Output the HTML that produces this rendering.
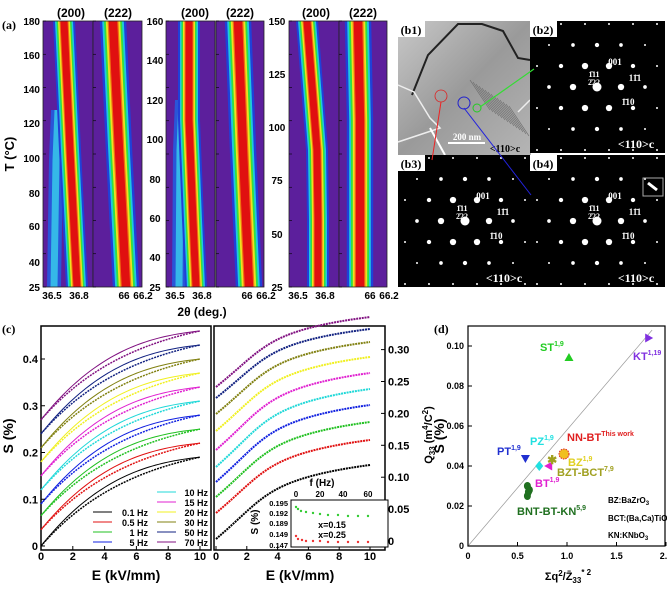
<!DOCTYPE html>
<html><head><meta charset="utf-8"><style>
html,body{margin:0;padding:0;background:#fff}
svg{display:block}
text{font-family:"Liberation Sans",sans-serif;font-weight:bold}
.s{font-family:"Liberation Serif",serif}
</style></head><body>
<svg id="g" width="667" height="600" viewBox="0 0 667 600" xmlns="http://www.w3.org/2000/svg">
<defs>
<linearGradient id="tem" x1="0" y1="0" x2="1" y2="1"><stop offset="0" stop-color="#c8c8c8"/><stop offset="0.5" stop-color="#9a9a9a"/><stop offset="1" stop-color="#b5b5b5"/></linearGradient>
</defs>
</svg>
<script>
const S=document.getElementById('g');let h='';
function T(x,y,t,o){o=o||{};h+=`<text x="${x}" y="${y}" font-size="${o.fs||11}" fill="${o.c||'#000'}" text-anchor="${o.a||'middle'}" ${o.cl?'class="'+o.cl+'"':''} ${o.tr?'transform="'+o.tr+'"':''}>${t}</text>`;}
const Y0=21,Y1=287;
const panels=[
 {x0:43,x1:93,pts:[[21,64],[150,70],[287,77]],sec:[[110,58],[160,56],[287,54]]},
 {x0:93,x1:142,pts:[[21,113],[150,119],[287,126]],wide:1},
 {x0:166,x1:215,pts:[[21,189],[120,189],[220,193],[287,196]],sec:[[100,182],[150,180],[287,179]]},
 {x0:216,x1:264,pts:[[21,238],[150,243],[287,249]],wide:1},
 {x0:289,x1:339,pts:[[21,307],[150,317],[220,318],[287,318]]},
 {x0:339,x1:387,pts:[[21,358],[120,360],[287,360]],wide:1}];
function band(pts,hw,col){let L=[],R=[];pts.forEach(p=>{L.push(`${p[1]-hw},${p[0]}`);R.unshift(`${p[1]+hw},${p[0]}`)});h+=`<polygon points="${L.concat(R).join(' ')}" fill="${col}"/>`;}
panels.forEach((p,i)=>{
 h+=`<clipPath id="c${i}"><rect x="${p.x0}" y="${Y0}" width="${p.x1-p.x0}" height="${Y1-Y0}"/></clipPath><g clip-path="url(#c${i})">`;
 h+=`<rect x="${p.x0}" y="${Y0}" width="${p.x1-p.x0}" height="${Y1-Y0}" fill="#5c1f9c"/>`;
 const k=p.wide?1.2:1;
 if(p.sec){band(p.sec,7,'#2a55d8');band(p.sec,3.5,'#35b8e8');}
 band(p.pts,11*k,'#2040d8');band(p.pts,9*k,'#20c8e0');band(p.pts,7.5*k,'#30e040');band(p.pts,6*k,'#f0e020');band(p.pts,4.5*k,'#f07010');band(p.pts,3.5*k,'#e01010');
 h+=`</g><rect x="${p.x0}" y="${Y0}" width="${p.x1-p.x0}" height="${Y1-Y0}" fill="none" stroke="#222" stroke-width="0.8"/>`;
 for(let t=0;t<9;t++){let y=Y0+t*(Y1-Y0)/8;h+=`<line x1="${p.x0}" y1="${y}" x2="${p.x0+3}" y2="${y}" stroke="#000" stroke-width="0.6"/>`;}
});
T(71,17,'(200)',{fs:12});T(118,17,'(222)',{fs:12});T(195,17,'(200)',{fs:12});T(240,17,'(222)',{fs:12});T(316,17,'(200)',{fs:12});T(363,17,'(222)',{fs:12});
T(2,29,'(a)',{fs:12,a:'start',cl:'s'});
[[180,21],[160,55],[140,89],[120,123],[100,158],[80,193],[60,226],[40,262],[25,287]].forEach(v=>T(40,v[1]+4,v[0],{a:'end',fs:10}));
[[160,21],[140,60],[120,100],[100,139],[80,179],[60,218],[40,257],[25,287]].forEach(v=>T(155,v[1]+4,v[0],{fs:10}));
[[150,21],[125,74],[100,127],[75,180],[50,234],[25,287]].forEach(v=>T(277,v[1]+4,v[0],{fs:10}));
[[0,43],[145,166],[267,289]].forEach(o=>{let b=o[1];T(b+9,299,'36.5',{fs:10});T(b+36,299,'36.8',{fs:10});T(b+81,299,'66',{fs:10});T(b+100,299,'66.2',{fs:10});});
T(202,316,'2θ (deg.)',{fs:12});
T(14,154,'T (°C)',{fs:13,tr:'rotate(-90 14 154)'});
// panel b
h+=`<rect x="398" y="21" width="133" height="134" fill="url(#tem)"/>`;
h+=`<polyline points="412,95 428,55 458,24 482,24 503,31 518,58 530,60" fill="none" stroke="#222" stroke-width="2"/>`;
h+=`<polyline points="398,85 414,92 430,118 440,128 398,142" fill="none" stroke="#eee" stroke-width="1.5"/>`;
h+=`<polyline points="430,128 445,155" fill="none" stroke="#fff" stroke-width="2"/><polyline points="518,112 530,100" fill="none" stroke="#eee" stroke-width="1.5"/>`;
for(let i=0;i<14;i++)h+=`<line x1="${470+i*3}" y1="${80+i*2}" x2="${490+i*3}" y2="${110+i*2}" stroke="#666" stroke-width="0.6"/>`;
h+=`<circle cx="441" cy="96" r="6" fill="none" stroke="#d22" stroke-width="0.8"/><circle cx="464" cy="103" r="6" fill="none" stroke="#22c" stroke-width="1"/><circle cx="477" cy="108" r="4" fill="none" stroke="#2c2" stroke-width="1"/>`;
h+=`<line x1="448" y1="143" x2="485" y2="143" stroke="#fff" stroke-width="2"/>`;
T(467,140,'200 nm',{fs:9,c:'#fff',cl:'s'});T(505,152,'&lt;110&gt;c',{fs:10,c:'#000',cl:'s'});
[[530,21],[398,155],[530,155]].forEach(q=>{h+=`<rect x="${q[0]}" y="${q[1]}" width="${q[0]==530?135:132}" height="132" fill="#000"/>`;
 let cx=q[0]+67,cy=q[1]+66;for(let i=-4;i<=4;i++)for(let j=-4;j<=4;j++){let x=cx+i*24+j*12,y=cy+j*21;if(x<q[0]+3||x>q[0]+132||y<q[1]+3||y>q[1]+130)continue;let d=Math.hypot(x-cx,y-cy);let r=Math.max(1,4.5-d/18);h+=`<circle cx="${x}" cy="${y}" r="${r}" fill="#fff"/>`;}
 T(q[0]+85,q[1]+44,'001',{fs:9,c:'#fff',cl:'s'});T(q[0]+64,q[1]+56,'1̄11',{fs:8,c:'#fff',cl:'s'});T(q[0]+64,q[1]+64,'2̄22',{fs:8,c:'#fff',cl:'s'});T(q[0]+105,q[1]+60,'11̄1',{fs:9,c:'#fff',cl:'s'});T(q[0]+98,q[1]+84,'1̄10',{fs:9,c:'#fff',cl:'s'});
 T(q[0]+106,q[1]+127,'&lt;110&gt;c',{fs:12,c:'#fff',cl:'s'});});
h+=`<line x1="441" y1="102" x2="432" y2="160" stroke="#e22" stroke-width="1"/><line x1="464" y1="108" x2="531" y2="195" stroke="#22d" stroke-width="1"/><line x1="480" y1="107" x2="534" y2="69" stroke="#3d3" stroke-width="1.2"/>`;
h+=`<rect x="643" y="178" width="20" height="18" fill="none" stroke="#aaa"/><line x1="648" y1="183" x2="657" y2="190" stroke="#fff" stroke-width="3"/>`;
[['(b1)',398,21],['(b2)',530,21],['(b3)',398,155],['(b4)',530,155]].forEach(b=>{h+=`<rect x="${b[1]}" y="${b[2]}" width="27" height="16" fill="#fff"/>`;T(b[1]+13,b[2]+13,b[0],{fs:12,cl:'s'});});
// panel c
const cols=['#000','#e01010','#20c020','#1020e0','#20d8d8','#e020d0','#f0f020','#808010','#102080','#801080'];
function curveL(s0,s1,E){let f=(1-Math.exp(-E/6))/(1-Math.exp(-10/6));return s0+(s1-s0)*f;}
h+=`<rect x="41" y="326" width="170" height="224" fill="none" stroke="#000" stroke-width="1.5"/><rect x="214" y="326" width="171" height="224" fill="none" stroke="#000" stroke-width="1.5"/>`;
const st=[0,0.035,0.065,0.09,0.12,0.15,0.18,0.21,0.24,0.27],en=[0.19,0.22,0.25,0.28,0.31,0.34,0.37,0.40,0.43,0.46];
st.forEach((s,i)=>{let a=[],b=[];for(let E=0;E<=10.001;E+=0.2){let x=41+15.9*E;a.push(`${x},${546-467.5*curveL(s,en[i],E)}`);b.push(`${x},${546-467.5*(curveL(s,en[i],E)+0.012*Math.sin(Math.PI*E/10))}`);}
 h+=`<polyline points="${a.join(' ')}" fill="none" stroke="${cols[i]}" stroke-width="1.5" stroke-dasharray="2 1"/><polyline points="${b.join(' ')}" fill="none" stroke="${cols[i]}" stroke-width="1"/>`;});
const rs=[539,513,497,482,467,450,431,414,398,387],re=[465,440,422,405,389,373,357,342,329,317];
rs.forEach((s,i)=>{let a=[];for(let E=0;E<=10.001;E+=0.2){let g=1/(1+Math.exp(-(E-2)/1.0)),g0=1/(1+Math.exp(2/1.0)),g1=1/(1+Math.exp(-8/1.0));let f=0.3*(g-g0)/(g1-g0)+0.7*(1-Math.exp(-E/6))/(1-Math.exp(-10/6));a.push(`${216+15.4*E},${s+(re[i]-s)*f}`);}
 h+=`<polyline points="${a.join(' ')}" fill="none" stroke="${cols[i]}" stroke-width="2" stroke-dasharray="2 0.8"/>`;});
for(let e=0;e<=10;e+=2){T(41+15.9*e,560,e,{fs:11});T(216+15.4*e,560,e,{fs:11});h+=`<line x1="${41+15.9*e}" y1="550" x2="${41+15.9*e}" y2="546" stroke="#000"/><line x1="${216+15.4*e}" y1="550" x2="${216+15.4*e}" y2="546" stroke="#000"/>`;}
[0,0.1,0.2,0.3,0.4].forEach(v=>{let y=546-467.5*v;T(38,y+4,v,{a:'end',fs:11});h+=`<line x1="41" y1="${y}" x2="45" y2="${y}" stroke="#000"/>`;});
[0,0.05,0.1,0.15,0.2,0.25,0.3].forEach(v=>{let y=541-638*v;T(388,y+4,v==0?'0':v.toFixed(2),{a:'start',fs:11});h+=`<line x1="385" y1="${y}" x2="381" y2="${y}" stroke="#000"/>`;});
T(2,333,'(c)',{fs:12,a:'start',cl:'s'});
T(13,436,'S (%)',{fs:14,tr:'rotate(-90 13 436)'});T(444,436,'S (%)',{fs:14,tr:'rotate(-90 444 436)'});
T(126,580,'E (kV/mm)',{fs:14});T(300,580,'E (kV/mm)',{fs:14});
[['0.1 Hz',512,0],['0.5 Hz',522,1],['1 Hz',532,2],['5 Hz',542,3]].forEach(l=>{h+=`<line x1="93" y1="${l[1]}" x2="112" y2="${l[1]}" stroke="${cols[l[2]]}"/>`;T(148,l[1]+4,l[0],{fs:9,a:'end'});});
[['10 Hz',492,4],['15 Hz',502,5],['20 Hz',512,6],['30 Hz',522,7],['50 Hz',532,8],['70 Hz',542,9]].forEach(l=>{h+=`<line x1="157" y1="${l[1]}" x2="176" y2="${l[1]}" stroke="${cols[l[2]]}"/>`;T(208,l[1]+4,l[0],{fs:9,a:'end'});});
h+=`<rect x="291" y="500" width="97" height="47" fill="#fff" stroke="#000"/>`;
T(322,486,'f (Hz)',{fs:10});[[0,296],[20,320],[40,343],[60,368]].forEach(t=>T(t[1],497,t[0],{fs:8}));
[['0.195',503],['0.192',513],['0.189',523],['0.149',534],['0.147',545]].forEach(t=>T(288,t[1]+3,t[0],{fs:7.5,a:'end'}));
T(258,522,'S (%)',{fs:10,tr:'rotate(-90 258 522)'});
[[296,507],[298,509],[301,511],[306,512],[313,513],[320,514],[328,515],[338,515],[348,516],[358,516],[368,516]].forEach(p=>h+=`<circle cx="${p[0]}" cy="${p[1]}" r="1.2" fill="#3c3"/>`);
[[296,536],[298,539],[302,540],[306,541],[313,541],[320,541],[328,542],[338,542],[348,542],[358,542],[368,542]].forEach(p=>h+=`<circle cx="${p[0]}" cy="${p[1]}" r="1.2" fill="#e33"/>`);
T(332,528,'x=0.15',{fs:9});T(332,538,'x=0.25',{fs:9});
// panel d
const X=v=>468+99*v,Yd=q=>546-2000*q;
h+=`<rect x="468" y="326" width="197" height="220" fill="none" stroke="#000" stroke-width="1.2"/>`;
h+=`<line x1="${X(0)}" y1="${Yd(0)}" x2="${X(1.86)}" y2="${Yd(0.108)}" stroke="#999" stroke-width="0.7"/>`;
[0,0.5,1,1.5,2].forEach(v=>{T(X(v),559,v==0?'0':v.toFixed(1),{fs:9});h+=`<line x1="${X(v)}" y1="546" x2="${X(v)}" y2="542" stroke="#000"/>`;});
[0,0.02,0.04,0.06,0.08,0.1].forEach(q=>{T(464,Yd(q)+3,q==0?'0':q.toFixed(2),{fs:9,a:'end'});h+=`<line x1="468" y1="${Yd(q)}" x2="472" y2="${Yd(q)}" stroke="#000"/>`;});
T(432,435,'Q<tspan font-size="8" dy="3">33</tspan><tspan dy="-3"> (m</tspan><tspan font-size="8" dy="-4">4</tspan><tspan dy="4">/C</tspan><tspan font-size="8" dy="-4">2</tspan><tspan dy="4">)</tspan>',{fs:11,tr:'rotate(-90 432 435)'});
T(568,580,'Σq<tspan font-size="8" dy="-4">2</tspan><tspan dy="4">/Z̄</tspan><tspan font-size="8" dy="3">33</tspan><tspan font-size="8" dy="-8">*  2</tspan>',{fs:11});
T(434,333,'(d)',{fs:12,a:'start',cl:'s'});
const tri=(x,y,r,rot,c)=>h+=`<polygon points="0,${-r} ${r*0.9},${r*0.6} ${-r*0.9},${r*0.6}" transform="translate(${x},${y}) rotate(${rot})" fill="${c}"/>`;
tri(X(1.02),Yd(0.094),5,0,'#2c2');tri(X(1.82),Yd(0.104),5,90,'#8030e0');tri(X(0.58),Yd(0.044),5,180,'#2030d0');tri(X(0.82),Yd(0.040),5,-90,'#e020d0');
h+=`<polygon points="${X(0.72)},${Yd(0.04)-5} ${X(0.72)+4},${Yd(0.04)} ${X(0.72)},${Yd(0.04)+5} ${X(0.72)-4},${Yd(0.04)}" fill="#20e0e0"/>`;
h+=`<text x="${X(0.85)}" y="${Yd(0.043)+4}" font-size="12" fill="#a0a020" text-anchor="middle">✱</text>`;
h+=`<circle cx="${X(0.97)}" cy="${Yd(0.046)}" r="5" fill="#f0c020" stroke="#e02020" stroke-dasharray="1.5 1"/>`;
[[0.6,0.030],[0.61,0.027],[0.6,0.025],[0.62,0.028]].forEach(p=>h+=`<ellipse cx="${X(p[0])}" cy="${Yd(p[1])}" rx="3.5" ry="4" fill="#207020"/>`);
const lab=(x,y,t,s,c)=>T(x,y,`${t}<tspan font-size="7" dy="-5">${s}</tspan>`,{fs:11,c:c,a:'start'});
lab(540,351,'ST','1,9','#2c2');lab(633,360,'KT','1,19','#8030e0');lab(497,455,'PT','1,9','#2030d0');lab(530,445,'PZ','1,9','#20e0e0');
lab(567,441,'NN-BT','This work','#e02020');lab(568,466,'BZ','1,9','#e0d020');lab(557,476,'BZT-BCT','7,9','#a0a020');lab(535,487,'BT','1,9','#e020d0');lab(517,515,'BNT-BT-KN','5,9','#207020');
T(608,503,'BZ:BaZrO<tspan font-size="6" dy="2">3</tspan>',{fs:8,a:'start'});T(608,521,'BCT:(Ba,Ca)TiO<tspan font-size="6" dy="2">3</tspan>',{fs:8,a:'start'});T(608,538,'KN:KNbO<tspan font-size="6" dy="2">3</tspan>',{fs:8,a:'start'});
S.innerHTML+=h;
</script>
</body></html>
